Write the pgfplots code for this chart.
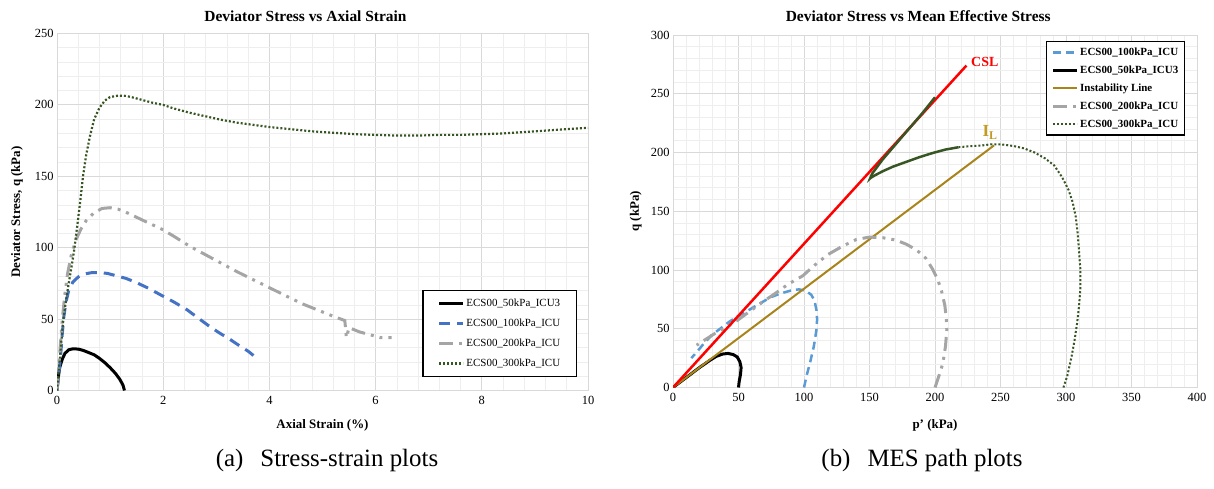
\documentclass[border=0pt]{standalone}
\usepackage{fontspec}
\setmainfont{Liberation Serif}
\usepackage{pgfplots}
\pgfplotsset{compat=1.18}

\definecolor{gridmaj}{HTML}{D9D9D9}
\definecolor{gridmin}{HTML}{EEEEEE}
\definecolor{exblue}{HTML}{4472C4}
\definecolor{exlblue}{HTML}{5B9BD5}
\definecolor{exgray}{HTML}{A5A5A5}
\definecolor{exgreen}{HTML}{375623}
\definecolor{ilgold}{HTML}{A8841A}
\definecolor{ilgoldtxt}{HTML}{C49A22}

\pgfplotsset{
  excel/.style={
    scale only axis,
    anchor=south west,
    axis line style={gridmaj},
    grid=both,
    major grid style={gridmaj, line width=0.8bp},
    minor grid style={gridmin, line width=0.6bp},
    tick style={draw=none},
    tick label style={font=\fontsize{12.5}{14}\selectfont},
    xticklabel style={yshift=-2bp},
    /pgf/number format/assume math mode=true,
    every axis title/.style={at={(0.5,1)}, anchor=center, font=\fontsize{15.5}{18}\selectfont\bfseries},
    xlabel style={font=\fontsize{13}{15}\selectfont\bfseries, anchor=center},
    ylabel style={font=\fontsize{13}{15}\selectfont\bfseries, anchor=center},
    legend cell align=left,
    legend image code/.code={\draw[##1] (0bp,0bp) -- (24bp,0bp);},
  },
  s50/.style={black, line width=3bp},
  s100/.style={exblue, line width=3bp, dash pattern=on 11bp off 7bp},
  s200/.style={exgray, line width=3bp, dash pattern=on 14bp off 6bp on 3bp off 6bp on 3bp off 6bp},
  s300/.style={exgreen, line width=2.2bp, dash pattern=on 2bp off 2bp},
}

\begin{document}
\begin{tikzpicture}
\path[use as bounding box] (0,0) rectangle (1214bp,489bp);

% ---------------- (a) stress-strain ----------------
\begin{axis}[excel,
  at={(57bp,98.5bp)}, width=531bp, height=357bp,
  xmin=0, xmax=10, ymin=0, ymax=250,
  xtick={0,2,...,10}, ytick={0,50,...,250},
  minor x tick num=4, minor y tick num=4,
  title={Deviator Stress vs Axial Strain},
  title style={at={(0.468,1.048)}},
  xlabel={Axial Strain (\%)},
  xlabel style={at={(0.5,-0.0966)}},
  ylabel={Deviator Stress, q (kPa)},
  ylabel style={at={(-0.0753,0.5)}},
  legend style={at={(0.688,0.281)}, anchor=north west, draw=black, line width=1.2bp,
    fill=white, font=\fontsize{11}{13}\selectfont, inner xsep=15bp, inner ysep=6bp,
    row sep=6.5bp, nodes={inner sep=1.5bp, text height=8bp, text depth=2.5bp}},
]
\addplot[s50] coordinates {
 (0,0) (0.02,8) (0.05,16) (0.1,22) (0.15,26) (0.22,28.5) (0.3,29.2) (0.4,29)
 (0.5,28) (0.6,26.5) (0.7,25) (0.8,22.5) (0.9,19.5) (1.0,16) (1.1,12)
 (1.18,8) (1.24,4) (1.26,1.5) (1.27,0)};
\addlegendentry{ECS00\_50kPa\_ICU3}
\addplot[s100] coordinates {
 (0,0) (0.03,10) (0.07,25) (0.1,40) (0.13,52) (0.17,62) (0.22,70) (0.3,76)
 (0.4,79.5) (0.5,81.5) (0.65,82.5) (0.8,82.6) (0.95,82) (1.1,80.5) (1.3,78.5)
 (1.5,75.5) (1.7,72) (2.0,66) (2.2,62) (2.45,56.5) (2.65,51) (2.85,45.5)
 (3.05,40.5) (3.25,36) (3.45,31) (3.6,27.5) (3.7,24.5)};
\addlegendentry{ECS00\_100kPa\_ICU}
\addplot[s200] coordinates {
 (0,0) (0.03,15) (0.07,35) (0.1,50) (0.15,68) (0.2,82) (0.27,95) (0.35,105)
 (0.45,113) (0.55,119) (0.7,124.5) (0.85,127.5) (1.0,128) (1.15,127)
 (1.35,124) (1.6,119.5) (1.8,116) (2.0,112.5) (2.2,108) (2.5,101) (2.8,95)
 (3.1,89) (3.4,83) (3.7,77.5) (4.0,72) (4.3,66.5) (4.6,61) (4.9,56.5)
 (5.2,52) (5.42,49) (5.45,37) (5.5,44) (5.7,41) (5.9,39) (6.1,37) (6.3,37)};
\addlegendentry{ECS00\_200kPa\_ICU}
\addplot[s300] coordinates {
 (0,0) (0.03,12) (0.06,25) (0.09,38) (0.12,50) (0.17,63) (0.22,75) (0.28,88)
 (0.33,100) (0.38,115) (0.43,130) (0.49,150) (0.55,165) (0.62,178) (0.7,190)
 (0.8,198) (0.9,203) (1.0,205.5) (1.15,206.5) (1.3,206.3) (1.45,205)
 (1.6,203.5) (1.8,201.5) (2.0,200) (2.2,197.5) (2.5,194.5) (2.8,192)
 (3.1,189.5) (3.4,187.5) (3.7,186) (4.0,184.5) (4.4,183) (4.8,181.5)
 (5.2,180.5) (5.6,179.5) (6.0,179) (6.4,178.5) (6.8,178.5) (7.2,179)
 (7.6,179) (8.0,179.5) (8.4,180) (8.8,181) (9.2,182) (9.6,183) (10.0,184)};
\addlegendentry{ECS00\_300kPa\_ICU}
\end{axis}

% ---------------- (b) p'-q paths ----------------
\begin{axis}[excel,
  at={(673bp,101.5bp)}, width=524bp, height=352.5bp,
  xmin=0, xmax=400, ymin=0, ymax=300,
  xtick={0,50,...,400}, ytick={0,50,...,300},
  minor x tick num=4, minor y tick num=4,
  title={Deviator Stress vs Mean Effective Stress},
  title style={at={(0.468,1.054)}},
  xlabel={p' (kPa)},
  xlabel style={at={(0.5,-0.1064)}},
  ylabel={q (kPa)},
  ylabel style={at={(-0.071,0.5)}},
  legend style={at={(0.712,0.983)}, anchor=north west, draw=black, line width=1.2bp,
    fill=white, font=\fontsize{11}{13}\selectfont\bfseries, inner xsep=5bp, inner ysep=4bp,
    row sep=4.5bp, nodes={inner sep=1.5bp, text height=8bp, text depth=2.5bp}},
]
\addplot[exlblue, line width=2.5bp, dash pattern=on 8bp off 5bp] coordinates {
 (100,0) (102,10) (105,23) (107.5,35) (109.5,49) (110,58) (109.5,66) (108,74)
 (105.5,79) (101,82.5) (96,83.5) (90,82.5) (82,80) (75,77) (67,72) (58,66)
 (50,61) (43,56) (36,50) (30,45) (24,38) (18,30) (14,25)};
\addlegendentry{ECS00\_100kPa\_ICU}
\addplot[s50] coordinates {
 (0,0) (10,8.4) (20,16.8) (28,23) (33,26.5) (38,28.5) (42,29) (46,28)
 (49,26) (51,22) (52,17) (51.5,11) (50.5,5) (50,0)};
\addlegendentry{ECS00\_50kPa\_ICU3}
\addplot[ilgold, line width=2bp] coordinates {(0,0) (245,206)};
\addlegendentry{Instability Line}
\addplot[s200] coordinates {
 (200,0) (203,10) (206,20.5) (208,35) (209,49) (208.5,60) (207.5,70) (205,82)
 (202,92) (198,101) (193,110) (186,117) (178,122) (170,125.5) (160,127.5)
 (150,128) (140,126) (129,120) (118,113) (108,104) (99,95) (88,88) (78,80)
 (70,74) (60,66) (49,57) (40,51) (32,46) (25,41) (18,36)};
\addlegendentry{ECS00\_200kPa\_ICU}
\addplot[s300, line width=2bp] coordinates {
 (298,0) (301,10) (304,25) (306.5,40) (308.5,55) (310,70) (311,85) (311,100)
 (310,115) (309,130) (307.5,145) (305,158) (302,168) (297,179) (291,189)
 (284,195) (276,200) (268,203.5) (260,205.5) (250,207) (243,207) (236,206)
 (228,205.5) (218,204.5)};
\addlegendentry{ECS00\_300kPa\_ICU}
% critical state line
\addplot[red, line width=2.5bp, forget plot] coordinates {(0,0) (224,274)};
% 300 kPa path: dense part of the record, back up to the CSL
\addplot[exgreen, line width=2.5bp, forget plot] coordinates {
 (218,204.5) (208,202.5) (198,199.5) (188,196) (178,192) (168,188) (160,184)
 (154,180.5) (151,178.5) (150.5,178) (152,182) (160,194) (170,207) (180,220)
 (190,233) (200,247)};
\node[red, font=\fontsize{14}{16}\selectfont\bfseries] at (axis cs:238,277) {CSL};
\node[ilgoldtxt, font=\fontsize{17}{19}\selectfont\bfseries] at (axis cs:242,217) {I\textsubscript{L}};
\end{axis}

\node[font=\fontsize{25}{28}\selectfont] at (327bp,28bp) {(a)\hspace{17bp}Stress-strain plots};
\node[font=\fontsize{25}{28}\selectfont] at (922bp,28bp) {(b)\hspace{17bp}MES path plots};
\end{tikzpicture}
\end{document}
